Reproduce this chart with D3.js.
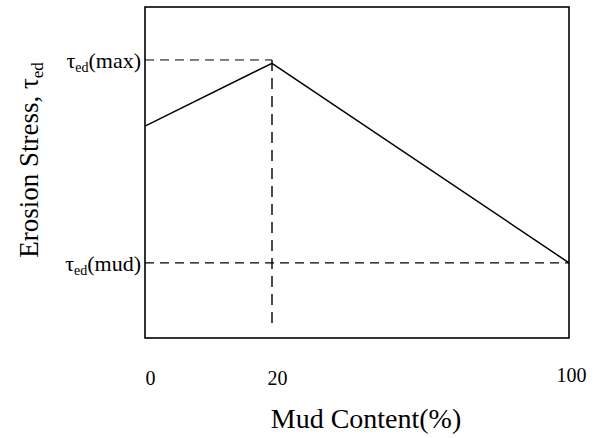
<!DOCTYPE html>
<html lang="en">
	<head>
		<meta charset="utf-8">
		<title>Erosion stress vs mud content</title>
		<script type="text/javascript" src="https://cdn.jsdelivr.net/npm/d3@7"></script>
		<style type="text/css">
			body { margin: 0; background: #fff; }
			text { font-family: "Liberation Serif", "Times New Roman", serif; fill: #000; }
		</style>
	</head>
	<body>
		<script type="text/javascript">

			//Data
			var mudContent = [0, 20, 100];
			var erosionStress = [64, 83, 22.7];
			var xTicks = [0, 20, 100];
			var refNames = ["max", "mud"];
			var refValues = [84, 22.7];
			var peakMud = 20;
			var dropFloor = 3;

			//Width and height
			var w = 597;
			var h = 438;
			var plotLeft = 145, plotRight = 569, plotTop = 7, plotBottom = 338;

			//schematic x axis: 0, 20 and 100 are not evenly spaced
			var xScale = d3.scaleLinear()
							.domain([0, 20, 100])
							.range([plotLeft, 272, plotRight]);

			var yScale = d3.scaleLinear()
							.domain([0, 100])
							.range([plotBottom, plotTop]);

			var svg = d3.select("body")
						.append("svg")
						.attr("width", w)
						.attr("height", h);

			//dashed reference lines
			svg.append("line")
			   .attr("x1", xScale(0))
			   .attr("x2", xScale(peakMud))
			   .attr("y1", yScale(refValues[0]))
			   .attr("y2", yScale(refValues[0]))
			   .attr("stroke", "#000")
			   .attr("stroke-width", 1)
			   .attr("stroke-dasharray", "9,6");

			svg.append("line")
			   .attr("x1", xScale(0))
			   .attr("x2", xScale(100))
			   .attr("y1", yScale(refValues[1]))
			   .attr("y2", yScale(refValues[1]))
			   .attr("stroke", "#000")
			   .attr("stroke-width", 1.3)
			   .attr("stroke-dasharray", "9,6");

			svg.append("line")
			   .attr("x1", xScale(peakMud))
			   .attr("x2", xScale(peakMud))
			   .attr("y1", yScale(refValues[0]))
			   .attr("y2", yScale(dropFloor))
			   .attr("stroke", "#000")
			   .attr("stroke-width", 1.4)
			   .attr("stroke-dasharray", "11,7");

			//the curve
			var line = d3.line()
						 .x(function(d, i) { return xScale(mudContent[i]); })
						 .y(function(d) { return yScale(d); });

			svg.append("path")
			   .datum(erosionStress)
			   .attr("d", line)
			   .attr("fill", "none")
			   .attr("stroke", "#000")
			   .attr("stroke-width", 1.5);

			//frame
			svg.append("rect")
			   .attr("x", plotLeft)
			   .attr("y", plotTop)
			   .attr("width", plotRight - plotLeft)
			   .attr("height", plotBottom - plotTop)
			   .attr("fill", "none")
			   .attr("stroke", "#000")
			   .attr("stroke-width", 1.6);

			//x tick labels
			var xAxis = d3.axisBottom(xScale)
						  .tickValues(xTicks)
						  .tickSize(0)
						  .tickFormat(d3.format("d"));

			var gx = svg.append("g")
						.attr("transform", "translate(0," + plotBottom + ")")
						.call(xAxis);
			gx.select(".domain").remove();
			gx.selectAll("text")
			  .attr("font-family", "Liberation Serif, serif")
			  .attr("font-size", "20px")
			  .attr("dx", function(d) { return d === 100 ? 2 : 5; })
			  .attr("y", function(d) { return d === 100 ? 44 : 47; })
			  .attr("dy", 0);

			//reference labels on the y side
			var refLabel = svg.selectAll(".reflabel")
							  .data(refValues)
							  .enter()
							  .append("text")
							  .attr("class", "reflabel")
							  .attr("x", plotLeft - 4)
							  .attr("y", function(d) { return yScale(d) + 8; })
							  .attr("text-anchor", "end")
							  .attr("font-size", "22px");
			refLabel.append("tspan").text("\u03c4");
			refLabel.append("tspan")
					.attr("font-size", "14px")
					.attr("dy", 4)
					.text("ed");
			refLabel.append("tspan")
					.attr("dy", -4)
					.text(function(d, i) { return "(" + refNames[i] + ")"; });

			//axis titles
			svg.append("text")
			   .attr("x", 366)
			   .attr("y", 428)
			   .attr("text-anchor", "middle")
			   .attr("font-size", "28px")
			   .text("Mud Content(%)");

			var yTitle = svg.append("text")
							.attr("transform", "translate(38,160) rotate(-90)")
							.attr("text-anchor", "middle")
							.attr("font-size", "27px");
			yTitle.append("tspan").text("Erosion Stress, \u03c4");
			yTitle.append("tspan")
				  .attr("font-size", "17px")
				  .attr("dy", 5)
				  .text("ed");
		</script>
	</body>
</html>
